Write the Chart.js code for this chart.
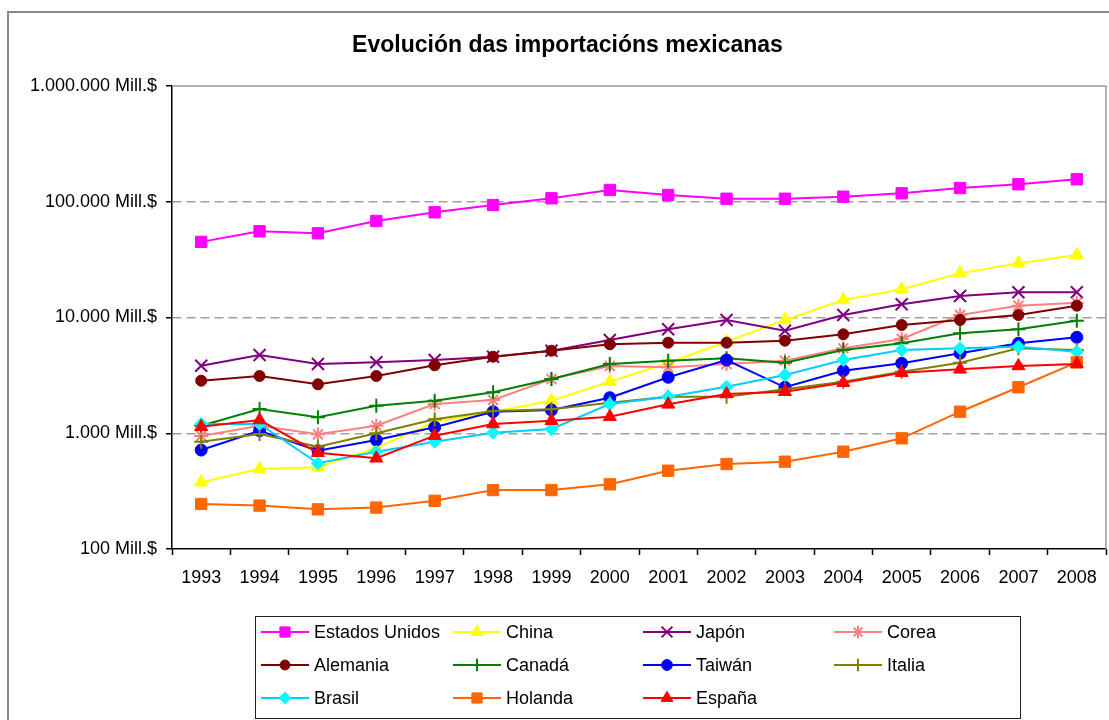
<!DOCTYPE html>
<html><head><meta charset="utf-8">
<script src="https://cdn.jsdelivr.net/npm/chart.js@4"></script>
<style>html,body{margin:0;padding:0;background:#fff;overflow:hidden;} canvas{display:block;}</style>
</head><body>
<canvas id="c" width="1109" height="720"></canvas>
<script>
// ---- data (millions of USD) ----
const years = ['1993','1994','1995','1996','1997','1998','1999','2000','2001','2002','2003','2004','2005','2006','2007','2008'];
const estadosUnidos = [45000, 55600, 53400, 68200, 81100, 93700, 107100, 126400, 114400, 106200, 106200, 110600, 118300, 131500, 141500, 156300];
const china        = [377, 491, 508, 746, 1250, 1535, 1911, 2788, 4045, 6180, 9510, 14170, 17530, 24100, 29400, 34700];
const japon        = [3835, 4745, 3965, 4100, 4295, 4585, 5165, 6390, 7910, 9510, 7690, 10510, 13000, 15340, 16510, 16510];
const corea        = [947, 1162, 979, 1162, 1790, 1937, 2942, 3810, 3715, 3965, 4235, 5420, 6520, 10510, 12650, 13420];
const alemania     = [2844, 3124, 2648, 3124, 3865, 4585, 5165, 5870, 6060, 6060, 6300, 7160, 8610, 9510, 10510, 12650];
const canada       = [1162, 1620, 1374, 1729, 1911, 2258, 2942, 3965, 4235, 4440, 4070, 5240, 5985, 7300, 7910, 9380];
const taiwan       = [716, 1052, 707, 875, 1126, 1535, 1588, 2028, 3043, 4295, 2495, 3470, 4020, 4910, 5985, 6745];
const italia       = [845, 986, 765, 1000, 1320, 1557, 1610, 1836, 2069, 2069, 2398, 2788, 3400, 4070, 5420, 5240];
const brasil       = [1202, 1202, 550, 693, 845, 1011, 1088, 1790, 2069, 2525, 3185, 4295, 5240, 5420, 5595, 5065];
const holanda      = [245, 237, 220, 228, 261, 323, 323, 362, 475, 542, 568, 693, 904, 1535, 2495, 4100];
const espana       = [1140, 1301, 679, 608, 953, 1202, 1283, 1390, 1778, 2183, 2285, 2733, 3335, 3567, 3810, 3965];
const yTickValues  = [100, 1000, 10000, 100000, 1000000];
const seriesNames  = ['Estados Unidos','China','Japón','Corea','Alemania','Canadá','Taiwán','Italia','Brasil','Holanda','España'];
const seriesValues = [estadosUnidos, china, japon, corea, alemania, canada, taiwan, italia, brasil, holanda, espana];
const titleText = 'Evolución das importacións mexicanas';
const unitSuffix = ' Mill.$';

// ---- styles ----
const styles = [
  {line:'#FF00FF', fill:'#FF00FF', shape:'rect',     r:8,   bw:1},
  {line:'#FFFF00', fill:'#FFFF00', shape:'triangle', r:7.5, bw:1},
  {line:'#800080', fill:'#800080', shape:'crossRot', r:8.5, bw:2},
  {line:'#FF8080', fill:'#FF8080', shape:'star',     r:7,   bw:2},
  {line:'#800000', fill:'#800000', shape:'circle',   r:5.5, bw:1},
  {line:'#008000', fill:'#008000', shape:'cross',    r:7,   bw:2},
  {line:'#0000FF', fill:'#0000FF', shape:'circle',   r:6,   bw:1},
  {line:'#808000', fill:'#808000', shape:'cross',    r:7,   bw:2},
  {line:'#00CCFF', fill:'#00FFFF', shape:'rectRot',  r:6.5, bw:1},
  {line:'#FF6600', fill:'#FF6600', shape:'rect',     r:8,   bw:1},
  {line:'#FF0000', fill:'#FF0000', shape:'triangle', r:7.5, bw:1}
];
const FONT = '"Liberation Sans", Arial, Helvetica, sans-serif';
Chart.defaults.font.family = FONT;
Chart.defaults.font.size = 18;
Chart.defaults.color = '#000';

const fmt = v => String(Math.round(v)).replace(/\B(?=(\d{3})+(?!\d))/g, '.');

const datasets = seriesNames.map((name, i) => ({
  label: name,
  data: seriesValues[i],
  borderColor: styles[i].line,
  backgroundColor: styles[i].fill,
  pointBackgroundColor: styles[i].fill,
  pointBorderColor: styles[i].fill,
  pointStyle: styles[i].shape,
  pointRadius: styles[i].r,
  pointBorderWidth: styles[i].bw,
  borderWidth: 2,
  tension: 0,
  fill: false,
  order: -i
}));

const framePlugin = {
  id: 'frame',
  beforeDraw(chart) {
    const ctx = chart.ctx;
    ctx.save();
    ctx.fillStyle = '#fff';
    ctx.fillRect(0, 0, chart.width, chart.height);
    ctx.strokeStyle = '#888';
    ctx.lineWidth = 2;
    ctx.beginPath();
    ctx.moveTo(8, chart.height);
    ctx.lineTo(8, 12);
    ctx.lineTo(chart.width, 12);
    ctx.stroke();
    // chart title
    ctx.fillStyle = '#000';
    ctx.font = 'bold 23px ' + FONT;
    ctx.textAlign = 'center';
    ctx.textBaseline = 'middle';
    ctx.fillText(titleText, 567.5, 46);
    ctx.restore();
  },
  afterDraw(chart) {
    const a = chart.chartArea, ctx = chart.ctx;
    ctx.save();
    ctx.strokeStyle = '#999';
    ctx.lineWidth = 1.5;
    ctx.beginPath();
    ctx.moveTo(a.left, a.top);
    ctx.lineTo(a.right, a.top);
    ctx.lineTo(a.right, a.bottom);
    ctx.stroke();

    // legend box
    ctx.strokeStyle = '#222';
    ctx.lineWidth = 1;
    ctx.strokeRect(255.5, 616.5, 765, 102);
    const colX = [261, 453, 643, 834];
    const rowY = [632, 665, 698];
    chart.data.datasets.forEach((ds, i) => {
      const x0 = colX[i % 4], y = rowY[Math.floor(i / 4)];
      ctx.strokeStyle = ds.borderColor;
      ctx.lineWidth = 2;
      ctx.beginPath();
      ctx.moveTo(x0, y);
      ctx.lineTo(x0 + 48, y);
      ctx.stroke();
      ctx.fillStyle = ds.pointBackgroundColor;
      ctx.strokeStyle = ds.pointBorderColor;
      ctx.lineWidth = ds.pointBorderWidth;
      Chart.helpers.drawPoint(ctx, {pointStyle: ds.pointStyle, radius: ds.pointRadius * 0.9, borderWidth: ds.pointBorderWidth, rotation: 0}, x0 + 24, y);
      ctx.fillStyle = '#000';
      ctx.font = '18px ' + FONT;
      ctx.textAlign = 'left';
      ctx.textBaseline = 'middle';
      ctx.fillText(ds.label, x0 + 53, y + 1);
    });
    ctx.restore();
  }
};

new Chart(document.getElementById('c'), {
  type: 'line',
  data: { labels: years, datasets },
  plugins: [framePlugin],
  options: {
    responsive: false,
    animation: false,
    devicePixelRatio: 1,
    events: [],
    layout: { autoPadding: false, padding: { left: 0, right: 3, top: 86, bottom: 120 } },
    plugins: {
      legend: { display: false },
      tooltip: { enabled: false },
      title: { display: false }
    },
    scales: {
      x: {
        type: 'category', offset: true,
        grid: { display: true, drawOnChartArea: false, offset: true, tickLength: 6, tickColor: '#000', tickWidth: 1.5 },
        border: { display: true, color: '#000', width: 1.5 },
        ticks: { color: '#000', padding: 12, maxRotation: 0, autoSkip: false },
        afterFit: s => { s.height = 51; s.paddingLeft = 0; s.paddingRight = 0; }
      },
      y: {
        type: 'logarithmic', min: 100, max: 1000000,
        afterBuildTicks: s => { s.ticks = yTickValues.map(v => ({ value: v })); },
        ticks: { callback: v => fmt(v) + unitSuffix, color: '#000', padding: 9, autoSkip: false },
        grid: {
          color: c => (c.tick && (c.tick.value === 100 || c.tick.value === 1000000)) ? 'rgba(0,0,0,0)' : '#A0A0A0',
          lineWidth: 1.5, tickColor: '#000', tickLength: 6, tickWidth: 1.5
        },
        border: { display: true, color: '#000', width: 1.5, dash: [9, 5] },
        afterFit: s => { s.width = 172; }
      }
    }
  }
});
</script>
</body></html>
